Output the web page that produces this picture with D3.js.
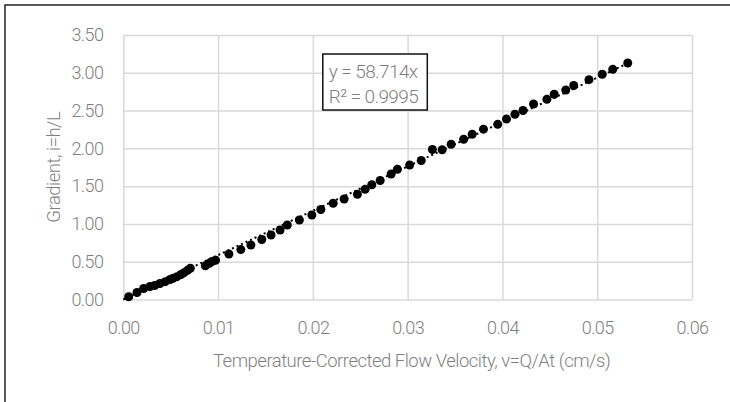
<!DOCTYPE html>
<html>
<head>
<meta charset="utf-8">
<script src="https://cdn.jsdelivr.net/npm/d3@7"></script>
<style>
  body { margin: 0; background: #fff; }
  svg text { font-family: "Roboto", sans-serif; font-weight: 300; fill: #7f7f7f; }
</style>
</head>
<body>
<div class="scatter"></div>
<script>
// measured points: velocity (cm/s) and gradient i=h/L
var velocity = [0.00057, 0.00145, 0.00215, 0.00282, 0.00331, 0.00387, 0.00443, 0.00493, 0.00525, 0.00567,
  0.00609, 0.00641, 0.00678, 0.00707, 0.00866, 0.00908, 0.00936, 0.00973, 0.01114, 0.0124,
  0.01346, 0.01461, 0.01559, 0.01654, 0.0173, 0.01858, 0.01989, 0.02084, 0.02214, 0.0233,
  0.0247, 0.02551, 0.02622, 0.0271, 0.02826, 0.02892, 0.03021, 0.03143, 0.03261, 0.03364,
  0.03459, 0.03591, 0.03681, 0.038, 0.0395, 0.04043, 0.04132, 0.04217, 0.04328, 0.04469,
  0.04546, 0.04668, 0.04752, 0.04913, 0.05053, 0.05164, 0.05322];
var gradient = [0.037, 0.093, 0.146, 0.172, 0.185, 0.212, 0.236, 0.265, 0.281, 0.302,
  0.331, 0.355, 0.386, 0.413, 0.447, 0.479, 0.503, 0.519, 0.602, 0.660,
  0.721, 0.794, 0.854, 0.920, 0.986, 1.052, 1.118, 1.191, 1.273, 1.330,
  1.392, 1.458, 1.519, 1.575, 1.661, 1.723, 1.780, 1.839, 1.985, 1.982,
  2.054, 2.120, 2.186, 2.254, 2.318, 2.389, 2.451, 2.501, 2.587, 2.649,
  2.716, 2.772, 2.832, 2.909, 2.981, 3.046, 3.130];
var xTicks = [0, 0.01, 0.02, 0.03, 0.04, 0.05, 0.06];
var yTicks = [0, 0.5, 1, 1.5, 2, 2.5, 3, 3.5];
var slope = 58.714;
var equationLines = ["y = 58.714x", "R² = 0.9995"];

var svgWidth = 730;
var svgHeight = 402;
var margin = { top: 35, right: 38, bottom: 102.5, left: 123.3 };
var width = svgWidth - margin.left - margin.right;
var height = svgHeight - margin.top - margin.bottom;

var root = d3.select(".scatter").append("svg")
  .attr("width", svgWidth)
  .attr("height", svgHeight);

// outer chart frame (only top and left edges show in the crop)
root.append("rect")
  .attr("x", 5).attr("y", 5)
  .attr("width", 740).attr("height", 410)
  .attr("fill", "none")
  .attr("stroke", "#222")
  .attr("stroke-width", 1.5);

var svg = root.append("g")
  .attr("transform", `translate(${margin.left}, ${margin.top})`);

var xScale = d3.scaleLinear().domain([0, 0.06]).range([0, width]);
var yScale = d3.scaleLinear().domain([0, 3.5]).range([height, 0]);

// gridlines
svg.append("g")
  .attr("transform", `translate(0, ${height})`)
  .call(d3.axisBottom(xScale).tickValues(xTicks).tickSize(-height).tickFormat(""))
  .call(g => g.select(".domain").remove())
  .selectAll("line").attr("stroke", "#d9d9d9").attr("stroke-width", 1.5);

svg.append("g")
  .call(d3.axisLeft(yScale).tickValues(yTicks).tickSize(-width).tickFormat(""))
  .call(g => g.select(".domain").remove())
  .selectAll("line").attr("stroke", "#d9d9d9").attr("stroke-width", 1.5);

// tick labels
var xAxis = svg.append("g")
  .attr("transform", `translate(0, ${height})`)
  .call(d3.axisBottom(xScale).tickValues(xTicks).tickSize(0).tickPadding(22).tickFormat(d3.format(".2f")));
xAxis.select(".domain").remove();
xAxis.selectAll("text").style("font-size", "18px").style("letter-spacing", "-0.6px").attr("fill", "#7f7f7f");

var yAxis = svg.append("g")
  .call(d3.axisLeft(yScale).tickValues(yTicks).tickSize(0).tickPadding(20).tickFormat(d3.format(".2f")));
yAxis.select(".domain").remove();
yAxis.selectAll("text").style("font-size", "18px").style("letter-spacing", "-0.6px").attr("fill", "#7f7f7f");

// axis titles
svg.append("text")
  .attr("x", width / 2 + 4)
  .attr("y", height + 67)
  .attr("text-anchor", "middle")
  .style("font-size", "18.5px")
  .style("letter-spacing", "-0.5px")
  .text("Temperature-Corrected Flow Velocity, v=Q/At (cm/s)");

svg.append("text")
  .attr("transform", `translate(-63, ${height / 2}) rotate(-90)`)
  .attr("text-anchor", "middle")
  .style("font-size", "18.5px")
  .style("letter-spacing", "-0.5px")
  .text("Gradient, i=h/L");

// trendline through the origin
var xMax = d3.max(velocity);
svg.append("line")
  .attr("x1", xScale(0)).attr("y1", yScale(0))
  .attr("x2", xScale(xMax)).attr("y2", yScale(slope * xMax))
  .attr("stroke", "#000")
  .attr("stroke-width", 2)
  .attr("stroke-dasharray", "2,3");

// points
svg.selectAll("circle")
  .data(velocity)
  .enter().append("circle")
  .attr("cx", d => xScale(d))
  .attr("cy", (d, i) => yScale(gradient[i]))
  .attr("r", 4.5)
  .attr("fill", "#000");

// equation box
var box = svg.append("g").attr("transform", "translate(199.5, 19)");
box.append("rect")
  .attr("width", 104.5).attr("height", 56)
  .attr("fill", "#fff")
  .attr("stroke", "#111")
  .attr("stroke-width", 1.5);
box.selectAll("text.eq")
  .data(equationLines)
  .enter().append("text")
  .attr("class", "eq")
  .attr("x", 6)
  .attr("y", (d, i) => 24 + i * 25)
  .style("font-size", "19px")
  .style("letter-spacing", "-0.6px")
  .text(d => d);
</script>
</body>
</html>
